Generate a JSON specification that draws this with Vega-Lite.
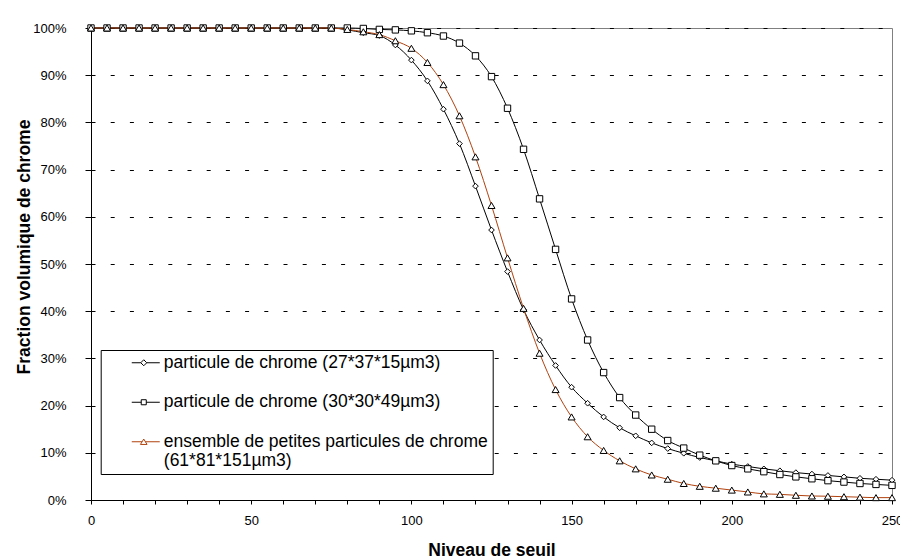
{
  "$schema": "https://vega.github.io/schema/vega-lite/v6.json",
  "width": 801,
  "height": 472,
  "autosize": {"type": "none"},
  "padding": {"left": 91, "top": 28, "right": 8, "bottom": 60},
  "background": "white",
  "config": {
    "font": "Liberation Sans",
    "view": {"stroke": "#808080", "strokeWidth": 1},
    "axis": {"domainColor": "#000000", "tickColor": "#000000", "labelColor": "#000000", "titleColor": "#000000", "labelFont": "Liberation Sans", "titleFont": "Liberation Sans"}
  },
  "data": {"values": [
    {"s": "particule de chrome (27*37*15µm3)", "x": 0, "y": 100}, {"s": "particule de chrome (27*37*15µm3)", "x": 5, "y": 100}, {"s": "particule de chrome (27*37*15µm3)", "x": 10, "y": 100}, {"s": "particule de chrome (27*37*15µm3)", "x": 15, "y": 100}, {"s": "particule de chrome (27*37*15µm3)", "x": 20, "y": 100}, {"s": "particule de chrome (27*37*15µm3)", "x": 25, "y": 100}, {"s": "particule de chrome (27*37*15µm3)", "x": 30, "y": 100}, {"s": "particule de chrome (27*37*15µm3)", "x": 35, "y": 100}, {"s": "particule de chrome (27*37*15µm3)", "x": 40, "y": 100}, {"s": "particule de chrome (27*37*15µm3)", "x": 45, "y": 100}, {"s": "particule de chrome (27*37*15µm3)", "x": 50, "y": 100}, {"s": "particule de chrome (27*37*15µm3)", "x": 55, "y": 100}, {"s": "particule de chrome (27*37*15µm3)", "x": 60, "y": 100}, {"s": "particule de chrome (27*37*15µm3)", "x": 65, "y": 100}, {"s": "particule de chrome (27*37*15µm3)", "x": 70, "y": 100}, {"s": "particule de chrome (27*37*15µm3)", "x": 75, "y": 100}, {"s": "particule de chrome (27*37*15µm3)", "x": 80, "y": 99.6}, {"s": "particule de chrome (27*37*15µm3)", "x": 85, "y": 99.0}, {"s": "particule de chrome (27*37*15µm3)", "x": 90, "y": 98.4}, {"s": "particule de chrome (27*37*15µm3)", "x": 95, "y": 96.4}, {"s": "particule de chrome (27*37*15µm3)", "x": 100, "y": 93.2}, {"s": "particule de chrome (27*37*15µm3)", "x": 105, "y": 88.8}, {"s": "particule de chrome (27*37*15µm3)", "x": 110, "y": 82.8}, {"s": "particule de chrome (27*37*15µm3)", "x": 115, "y": 75.5}, {"s": "particule de chrome (27*37*15µm3)", "x": 120, "y": 66.5}, {"s": "particule de chrome (27*37*15µm3)", "x": 125, "y": 57.2}, {"s": "particule de chrome (27*37*15µm3)", "x": 130, "y": 48.4}, {"s": "particule de chrome (27*37*15µm3)", "x": 135, "y": 40.3}, {"s": "particule de chrome (27*37*15µm3)", "x": 140, "y": 33.9}, {"s": "particule de chrome (27*37*15µm3)", "x": 145, "y": 28.5}, {"s": "particule de chrome (27*37*15µm3)", "x": 150, "y": 23.9}, {"s": "particule de chrome (27*37*15µm3)", "x": 155, "y": 20.5}, {"s": "particule de chrome (27*37*15µm3)", "x": 160, "y": 17.6}, {"s": "particule de chrome (27*37*15µm3)", "x": 165, "y": 15.3}, {"s": "particule de chrome (27*37*15µm3)", "x": 170, "y": 13.6}, {"s": "particule de chrome (27*37*15µm3)", "x": 175, "y": 12.1}, {"s": "particule de chrome (27*37*15µm3)", "x": 180, "y": 10.9}, {"s": "particule de chrome (27*37*15µm3)", "x": 185, "y": 9.9}, {"s": "particule de chrome (27*37*15µm3)", "x": 190, "y": 9.0}, {"s": "particule de chrome (27*37*15µm3)", "x": 195, "y": 8.3}, {"s": "particule de chrome (27*37*15µm3)", "x": 200, "y": 7.6}, {"s": "particule de chrome (27*37*15µm3)", "x": 205, "y": 7.1}, {"s": "particule de chrome (27*37*15µm3)", "x": 210, "y": 6.6}, {"s": "particule de chrome (27*37*15µm3)", "x": 215, "y": 6.2}, {"s": "particule de chrome (27*37*15µm3)", "x": 220, "y": 5.8}, {"s": "particule de chrome (27*37*15µm3)", "x": 225, "y": 5.5}, {"s": "particule de chrome (27*37*15µm3)", "x": 230, "y": 5.2}, {"s": "particule de chrome (27*37*15µm3)", "x": 235, "y": 4.9}, {"s": "particule de chrome (27*37*15µm3)", "x": 240, "y": 4.6}, {"s": "particule de chrome (27*37*15µm3)", "x": 245, "y": 4.4}, {"s": "particule de chrome (27*37*15µm3)", "x": 250, "y": 4.2},
    {"s": "particule de chrome (30*30*49µm3)", "x": 0, "y": 100}, {"s": "particule de chrome (30*30*49µm3)", "x": 5, "y": 100}, {"s": "particule de chrome (30*30*49µm3)", "x": 10, "y": 100}, {"s": "particule de chrome (30*30*49µm3)", "x": 15, "y": 100}, {"s": "particule de chrome (30*30*49µm3)", "x": 20, "y": 100}, {"s": "particule de chrome (30*30*49µm3)", "x": 25, "y": 100}, {"s": "particule de chrome (30*30*49µm3)", "x": 30, "y": 100}, {"s": "particule de chrome (30*30*49µm3)", "x": 35, "y": 100}, {"s": "particule de chrome (30*30*49µm3)", "x": 40, "y": 100}, {"s": "particule de chrome (30*30*49µm3)", "x": 45, "y": 100}, {"s": "particule de chrome (30*30*49µm3)", "x": 50, "y": 100}, {"s": "particule de chrome (30*30*49µm3)", "x": 55, "y": 100}, {"s": "particule de chrome (30*30*49µm3)", "x": 60, "y": 100}, {"s": "particule de chrome (30*30*49µm3)", "x": 65, "y": 100}, {"s": "particule de chrome (30*30*49µm3)", "x": 70, "y": 100}, {"s": "particule de chrome (30*30*49µm3)", "x": 75, "y": 100}, {"s": "particule de chrome (30*30*49µm3)", "x": 80, "y": 100}, {"s": "particule de chrome (30*30*49µm3)", "x": 85, "y": 99.9}, {"s": "particule de chrome (30*30*49µm3)", "x": 90, "y": 99.7}, {"s": "particule de chrome (30*30*49µm3)", "x": 95, "y": 99.6}, {"s": "particule de chrome (30*30*49µm3)", "x": 100, "y": 99.4}, {"s": "particule de chrome (30*30*49µm3)", "x": 105, "y": 99.0}, {"s": "particule de chrome (30*30*49µm3)", "x": 110, "y": 98.3}, {"s": "particule de chrome (30*30*49µm3)", "x": 115, "y": 96.8}, {"s": "particule de chrome (30*30*49µm3)", "x": 120, "y": 94.1}, {"s": "particule de chrome (30*30*49µm3)", "x": 125, "y": 89.7}, {"s": "particule de chrome (30*30*49µm3)", "x": 130, "y": 83.0}, {"s": "particule de chrome (30*30*49µm3)", "x": 135, "y": 74.3}, {"s": "particule de chrome (30*30*49µm3)", "x": 140, "y": 63.8}, {"s": "particule de chrome (30*30*49µm3)", "x": 145, "y": 53.1}, {"s": "particule de chrome (30*30*49µm3)", "x": 150, "y": 42.6}, {"s": "particule de chrome (30*30*49µm3)", "x": 155, "y": 33.9}, {"s": "particule de chrome (30*30*49µm3)", "x": 160, "y": 27.0}, {"s": "particule de chrome (30*30*49µm3)", "x": 165, "y": 21.7}, {"s": "particule de chrome (30*30*49µm3)", "x": 170, "y": 18.0}, {"s": "particule de chrome (30*30*49µm3)", "x": 175, "y": 15.0}, {"s": "particule de chrome (30*30*49µm3)", "x": 180, "y": 12.6}, {"s": "particule de chrome (30*30*49µm3)", "x": 185, "y": 11.0}, {"s": "particule de chrome (30*30*49µm3)", "x": 190, "y": 9.5}, {"s": "particule de chrome (30*30*49µm3)", "x": 195, "y": 8.3}, {"s": "particule de chrome (30*30*49µm3)", "x": 200, "y": 7.3}, {"s": "particule de chrome (30*30*49µm3)", "x": 205, "y": 6.6}, {"s": "particule de chrome (30*30*49µm3)", "x": 210, "y": 6.0}, {"s": "particule de chrome (30*30*49µm3)", "x": 215, "y": 5.4}, {"s": "particule de chrome (30*30*49µm3)", "x": 220, "y": 4.9}, {"s": "particule de chrome (30*30*49µm3)", "x": 225, "y": 4.5}, {"s": "particule de chrome (30*30*49µm3)", "x": 230, "y": 4.1}, {"s": "particule de chrome (30*30*49µm3)", "x": 235, "y": 3.8}, {"s": "particule de chrome (30*30*49µm3)", "x": 240, "y": 3.5}, {"s": "particule de chrome (30*30*49µm3)", "x": 245, "y": 3.3}, {"s": "particule de chrome (30*30*49µm3)", "x": 250, "y": 3.1},
    {"s": "ensemble de petites particules de chrome (61*81*151µm3)", "x": 0, "y": 100}, {"s": "ensemble de petites particules de chrome (61*81*151µm3)", "x": 5, "y": 100}, {"s": "ensemble de petites particules de chrome (61*81*151µm3)", "x": 10, "y": 100}, {"s": "ensemble de petites particules de chrome (61*81*151µm3)", "x": 15, "y": 100}, {"s": "ensemble de petites particules de chrome (61*81*151µm3)", "x": 20, "y": 100}, {"s": "ensemble de petites particules de chrome (61*81*151µm3)", "x": 25, "y": 100}, {"s": "ensemble de petites particules de chrome (61*81*151µm3)", "x": 30, "y": 100}, {"s": "ensemble de petites particules de chrome (61*81*151µm3)", "x": 35, "y": 100}, {"s": "ensemble de petites particules de chrome (61*81*151µm3)", "x": 40, "y": 100}, {"s": "ensemble de petites particules de chrome (61*81*151µm3)", "x": 45, "y": 100}, {"s": "ensemble de petites particules de chrome (61*81*151µm3)", "x": 50, "y": 100}, {"s": "ensemble de petites particules de chrome (61*81*151µm3)", "x": 55, "y": 100}, {"s": "ensemble de petites particules de chrome (61*81*151µm3)", "x": 60, "y": 100}, {"s": "ensemble de petites particules de chrome (61*81*151µm3)", "x": 65, "y": 100}, {"s": "ensemble de petites particules de chrome (61*81*151µm3)", "x": 70, "y": 100}, {"s": "ensemble de petites particules de chrome (61*81*151µm3)", "x": 75, "y": 100}, {"s": "ensemble de petites particules de chrome (61*81*151µm3)", "x": 80, "y": 99.7}, {"s": "ensemble de petites particules de chrome (61*81*151µm3)", "x": 85, "y": 99.2}, {"s": "ensemble de petites particules de chrome (61*81*151µm3)", "x": 90, "y": 98.6}, {"s": "ensemble de petites particules de chrome (61*81*151µm3)", "x": 95, "y": 97.3}, {"s": "ensemble de petites particules de chrome (61*81*151µm3)", "x": 100, "y": 95.7}, {"s": "ensemble de petites particules de chrome (61*81*151µm3)", "x": 105, "y": 92.7}, {"s": "ensemble de petites particules de chrome (61*81*151µm3)", "x": 110, "y": 88.0}, {"s": "ensemble de petites particules de chrome (61*81*151µm3)", "x": 115, "y": 81.4}, {"s": "ensemble de petites particules de chrome (61*81*151µm3)", "x": 120, "y": 72.7}, {"s": "ensemble de petites particules de chrome (61*81*151µm3)", "x": 125, "y": 62.4}, {"s": "ensemble de petites particules de chrome (61*81*151µm3)", "x": 130, "y": 51.3}, {"s": "ensemble de petites particules de chrome (61*81*151µm3)", "x": 135, "y": 40.6}, {"s": "ensemble de petites particules de chrome (61*81*151µm3)", "x": 140, "y": 31.1}, {"s": "ensemble de petites particules de chrome (61*81*151µm3)", "x": 145, "y": 23.4}, {"s": "ensemble de petites particules de chrome (61*81*151µm3)", "x": 150, "y": 17.6}, {"s": "ensemble de petites particules de chrome (61*81*151µm3)", "x": 155, "y": 13.4}, {"s": "ensemble de petites particules de chrome (61*81*151µm3)", "x": 160, "y": 10.5}, {"s": "ensemble de petites particules de chrome (61*81*151µm3)", "x": 165, "y": 8.3}, {"s": "ensemble de petites particules de chrome (61*81*151µm3)", "x": 170, "y": 6.6}, {"s": "ensemble de petites particules de chrome (61*81*151µm3)", "x": 175, "y": 5.3}, {"s": "ensemble de petites particules de chrome (61*81*151µm3)", "x": 180, "y": 4.4}, {"s": "ensemble de petites particules de chrome (61*81*151µm3)", "x": 185, "y": 3.5}, {"s": "ensemble de petites particules de chrome (61*81*151µm3)", "x": 190, "y": 2.9}, {"s": "ensemble de petites particules de chrome (61*81*151µm3)", "x": 195, "y": 2.5}, {"s": "ensemble de petites particules de chrome (61*81*151µm3)", "x": 200, "y": 2.1}, {"s": "ensemble de petites particules de chrome (61*81*151µm3)", "x": 205, "y": 1.7}, {"s": "ensemble de petites particules de chrome (61*81*151µm3)", "x": 210, "y": 1.3}, {"s": "ensemble de petites particules de chrome (61*81*151µm3)", "x": 215, "y": 1.2}, {"s": "ensemble de petites particules de chrome (61*81*151µm3)", "x": 220, "y": 1.0}, {"s": "ensemble de petites particules de chrome (61*81*151µm3)", "x": 225, "y": 0.85}, {"s": "ensemble de petites particules de chrome (61*81*151µm3)", "x": 230, "y": 0.8}, {"s": "ensemble de petites particules de chrome (61*81*151µm3)", "x": 235, "y": 0.7}, {"s": "ensemble de petites particules de chrome (61*81*151µm3)", "x": 240, "y": 0.6}, {"s": "ensemble de petites particules de chrome (61*81*151µm3)", "x": 245, "y": 0.5}, {"s": "ensemble de petites particules de chrome (61*81*151µm3)", "x": 250, "y": 0.5}
  ]},
  "encoding": {
    "x": {"field": "x", "type": "quantitative", "scale": {"domain": [0, 250], "nice": false, "zero": false},
      "axis": {"title": "Niveau de seuil", "values": [0,10,20,30,40,50,60,70,80,90,100,110,120,130,140,150,160,170,180,190,200,210,220,230,240,250],
        "labelExpr": "datum.value % 50 === 0 ? datum.label : ''", "grid": false, "tickSize": 4, "labelPadding": 10, "labelFontSize": 13, "labelFlush": false, "labelOverlap": false,
        "titleFontSize": 17.5, "titleFontWeight": "bold", "titleY": 55, "titleBaseline": "alphabetic"}},
    "y": {"field": "y", "type": "quantitative", "scale": {"domain": [0, 100], "nice": false},
      "axis": {"title": "Fraction volumique de chrome", "values": [0,10,20,30,40,50,60,70,80,90,100], "labelExpr": "datum.value + '%'",
        "grid": true, "gridColor": "#000000", "gridDash": [4, 15.2], "gridWidth": 1, "tickSize": 6, "labelPadding": 19, "labelFontSize": 13,
        "titleFontSize": 17.5, "titleFontWeight": "bold", "titleX": -61.5, "titleY": 218.5, "titleAngle": -90, "titleAlign": "center", "titleBaseline": "alphabetic"}}
  },
  "layer": [
    {"mark": {"type": "line", "interpolate": "monotone", "strokeWidth": 1},
     "encoding": {"stroke": {"field": "s", "type": "nominal", "scale": {"domain": ["particule de chrome (27*37*15µm3)", "particule de chrome (30*30*49µm3)", "ensemble de petites particules de chrome (61*81*151µm3)"], "range": ["#000000", "#000000", "#B0420E"]}, "legend": null}}},
    {"mark": {"type": "point", "filled": false, "fill": "white", "fillOpacity": 1, "stroke": "#000000", "strokeWidth": 1, "opacity": 1},
     "encoding": {
       "shape": {"field": "s", "type": "nominal", "scale": {"domain": ["particule de chrome (27*37*15µm3)", "particule de chrome (30*30*49µm3)", "ensemble de petites particules de chrome (61*81*151µm3)"], "range": ["diamond", "square", "triangle-up"]}, "legend": null},
       "size": {"field": "s", "type": "nominal", "scale": {"domain": ["particule de chrome (27*37*15µm3)", "particule de chrome (30*30*49µm3)", "ensemble de petites particules de chrome (61*81*151µm3)"], "range": [32, 49, 55]}, "legend": null}}},
    {"mark": {"type": "point", "filled": false, "opacity": 0, "strokeWidth": 1},
     "encoding": {
       "color": {"field": "s", "type": "nominal", "scale": {"domain": ["particule de chrome (27*37*15µm3)", "particule de chrome (30*30*49µm3)", "ensemble de petites particules de chrome (61*81*151µm3)"], "range": ["#000000", "#000000", "#B0420E"]},
         "legend": {"title": null, "orient": "none", "legendX": 9.7, "legendY": 322, "padding": 4, "strokeColor": "#000000", "fillColor": "white",
           "symbolSize": 144, "symbolStrokeWidth": 1, "labelOffset": 41.6, "labelFontSize": 17.5, "labelFont": "Liberation Sans", "labelColor": "#000000", "labelLimit": 0, "rowPadding": 20.5,
           "labelExpr": "datum.label == 'ensemble de petites particules de chrome (61*81*151µm3)' ? ['ensemble de petites particules de chrome', '(61*81*151µm3)'] : datum.label",
           "encode": {"symbols": {"update": {"opacity": {"value": 1}}}}}},
       "shape": {"field": "s", "type": "nominal", "scale": {"domain": ["particule de chrome (27*37*15µm3)", "particule de chrome (30*30*49µm3)", "ensemble de petites particules de chrome (61*81*151µm3)"],
         "range": ["M3.05,0H4.55M5.05,-0.5L5.55,0L5.05,0.5L4.55,0ZM5.55,0H7.72", "M3.05,0H4.63M4.63,-0.42H5.47V0.42H4.63ZM5.47,0H7.72", "M3.05,0H4.775M5.05,-0.45L5.6,0.45L4.5,0.45ZM5.325,0H7.72"]},
         "legend": {"title": null, "orient": "none", "legendX": 9.7, "legendY": 322, "padding": 4, "strokeColor": "#000000", "fillColor": "white",
           "symbolSize": 144, "symbolStrokeWidth": 1, "labelOffset": 41.6, "labelFontSize": 17.5, "labelFont": "Liberation Sans", "labelColor": "#000000", "labelLimit": 0, "rowPadding": 20.5,
           "labelExpr": "datum.label == 'ensemble de petites particules de chrome (61*81*151µm3)' ? ['ensemble de petites particules de chrome', '(61*81*151µm3)'] : datum.label",
           "encode": {"symbols": {"update": {"opacity": {"value": 1}}}}}}}}
  ],
  "resolve": {"scale": {"shape": "independent", "color": "independent"}}
}
